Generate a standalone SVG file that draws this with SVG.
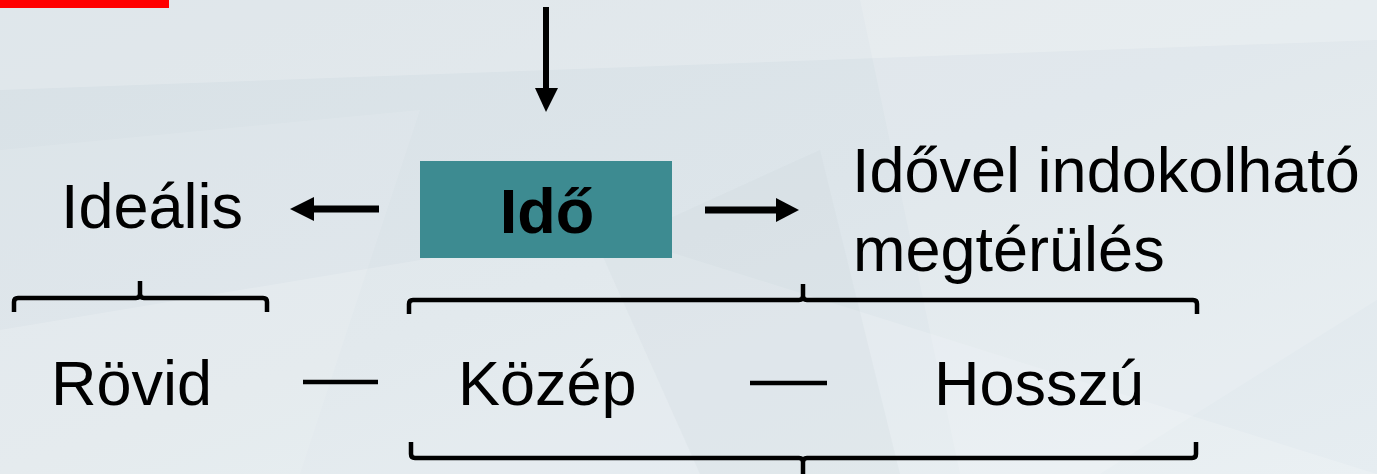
<svg xmlns="http://www.w3.org/2000/svg" width="1377" height="474" viewBox="0 0 1377 474">
  <defs>
    <linearGradient id="bg" x1="0" y1="0" x2="1" y2="1">
      <stop offset="0" stop-color="#d8e1e6"/>
      <stop offset="0.5" stop-color="#dde5ea"/>
      <stop offset="1" stop-color="#e6edf1"/>
    </linearGradient>
  </defs>
  <style>
    .t { font-family: "Liberation Sans", Arial, sans-serif; font-size: 63px; fill: #000; }
    .b { font-weight: bold; }
    .br { fill: none; stroke: #000; stroke-width: 4.5; stroke-linejoin: round; stroke-linecap: butt; }
    .ln { stroke: #000; stroke-width: 4.5; }
    .sh { stroke: #000; stroke-width: 7; }
    .hd { fill: #000; }
    .facet { fill: #ffffff; }
  </style>
  <g id="background">
    <rect x="0" y="0" width="1377" height="474" fill="url(#bg)"/>
    <polygon class="facet" opacity="0.2" points="0,0 1377,0 1377,40 0,90"/>
    <polygon class="facet" opacity="0.16" points="0,330 600,230 1377,474 0,474"/>
    <polygon class="facet" opacity="0.14" points="860,0 1377,0 1377,300 1100,474 960,474"/>
    <polygon fill="#c9d2d8" opacity="0.18" points="600,250 820,150 900,474 700,474"/>
    <polygon class="facet" opacity="0.1" points="0,150 420,110 300,474 0,474"/>
  </g>
  <g id="marker-bar">
    <rect x="0" y="0" width="169" height="8" fill="#ff0000"/>
  </g>
  <g id="node-ido">
    <rect x="420" y="161" width="252" height="97" fill="#3d8b91"/>
    <text class="t b" x="547" y="233" text-anchor="middle">Idő</text>
  </g>
  <g id="node-idealis">
    <text class="t" x="61" y="228">Ideális</text>
  </g>
  <g id="node-megterules">
    <text class="t" x="852" y="192">Idővel indokolható</text>
    <text class="t" x="853" y="271">megtérülés</text>
  </g>
  <g id="node-rovid">
    <text class="t" x="51" y="405">Rövid</text>
  </g>
  <g id="node-kozep">
    <text class="t" x="458" y="405">Közép</text>
  </g>
  <g id="node-hosszu">
    <text class="t" x="934" y="405">Hosszú</text>
  </g>
  <g id="connectors">
    <line class="sh" x1="546" y1="7" x2="546" y2="92" style="stroke-width:6"/>
    <polygon class="hd" points="535,88 558,88 546,112"/>
    <line class="sh" x1="379" y1="209" x2="310" y2="209"/>
    <polygon class="hd" points="314,197 314,221 290,209"/>
    <line class="sh" x1="705" y1="210" x2="780" y2="210"/>
    <polygon class="hd" points="776,198 776,222 799,210"/>
    <line class="ln" x1="303" y1="382" x2="378" y2="382"/>
    <line class="ln" x1="750" y1="383" x2="827" y2="383"/>
    <path class="br" d="M14,312 L14,302 Q14,298 18,298 L136,298 Q140,298 140,294 L140,281 M140,294 Q140,298 144,298 L263,298 Q267,298 267,302 L267,312"/>
    <path class="br" d="M409,314 L409,304 Q409,300 413,300 L799,300 Q803,300 803,296 L803,284 M803,296 Q803,300 807,300 L1193,300 Q1197,300 1197,304 L1197,314"/>
    <path class="br" d="M411,442 L411,454 Q411,458 415,458 L799,458 Q803,458 803,462 L803,476 M803,462 Q803,458 807,458 L1192,458 Q1196,458 1196,454 L1196,442"/>
  </g>
</svg>
